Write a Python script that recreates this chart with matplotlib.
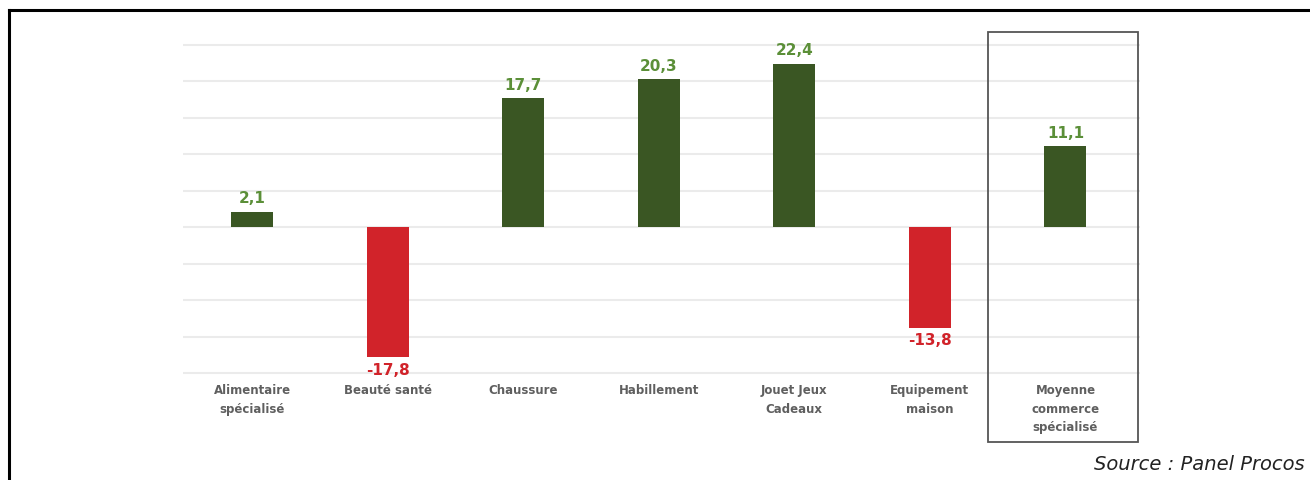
import matplotlib
matplotlib.use("Agg")
import matplotlib.pyplot as plt
from matplotlib.patches import Rectangle
from matplotlib.lines import Line2D

categories = ["Alimentaire\nspécialisé", "Beauté santé", "Chaussure", "Habillement",
              "Jouet Jeux\nCadeaux", "Equipement\nmaison", "Moyenne\ncommerce\nspécialisé"]
values = [2.1, -17.8, 17.7, 20.3, 22.4, -13.8, 11.1]
value_labels = ["2,1", "-17,8", "17,7", "20,3", "22,4", "-13,8", "11,1"]
grid_levels = [-20, -15, -10, -5, 0, 5, 10, 15, 20, 25]

POS_BAR = "#3a5623"
NEG_BAR = "#d1232a"
POS_TXT = "#5b8f38"
NEG_TXT = "#d1232a"
LABEL_GREY = "#5f5f5f"

plt.rcParams["font.family"] = ["DejaVu Sans"]

fig = plt.figure(figsize=(13.1, 4.8), dpi=100)
ax = fig.add_axes([183 / 1310, 1 - 373 / 480, (1140 - 183) / 1310, (373 - 45) / 480])

x = list(range(len(values)))
colors = [POS_BAR if v >= 0 else NEG_BAR for v in values]
ax.bar(x, values, width=0.31, color=colors, zorder=3)

ax.set_ylim(-20, 25)
ax.set_xlim(-0.51, 6.55)
# horizontal guide lines, kept unclipped so the outer ones show full width
ax.hlines(grid_levels, -0.51, 6.55, colors="#ebebeb", linewidth=1.5, zorder=0,
          clip_on=False)
ax.tick_params(left=False, bottom=False, labelleft=False, labelbottom=False)
for s in ax.spines.values():
    s.set_visible(False)

for xi, v, lab in zip(x, values, value_labels):
    if v >= 0:
        ax.annotate(lab, (xi, v), xytext=(0, 4), textcoords="offset points",
                    ha="center", va="bottom", color=POS_TXT, fontsize=11,
                    fontweight="bold")
    else:
        ax.annotate(lab, (xi, v), xytext=(0, -4), textcoords="offset points",
                    ha="center", va="top", color=NEG_TXT, fontsize=11,
                    fontweight="bold")

# category names under the axis
for xi, cat in zip(x, categories):
    ax.annotate(cat, (xi, -20), xytext=(0, -8), textcoords="offset points",
                ha="center", va="top", color=LABEL_GREY, fontsize=8.5,
                fontweight="bold", linespacing=1.55)

# frame highlighting the overall average
fig.add_artist(Rectangle((988 / 1310, 1 - 442 / 480), 150 / 1310, 410 / 480,
                         transform=fig.transFigure, fill=False,
                         edgecolor="#555555", linewidth=1.3))

# outer frame (top and left edges)
fig.add_artist(Line2D([9 / 1310, 1.0], [1 - 10 / 480, 1 - 10 / 480],
                      transform=fig.transFigure, color="black", linewidth=2.2))
fig.add_artist(Line2D([9 / 1310, 9 / 1310], [0.0, 1 - 10 / 480],
                      transform=fig.transFigure, color="black", linewidth=2.2))

fig.text(1305 / 1310, 1 - 465 / 480, "Source : Panel Procos", ha="right", va="center",
         fontsize=14, fontstyle="italic", color="#222222")

fig.savefig("out.png", dpi=100)
